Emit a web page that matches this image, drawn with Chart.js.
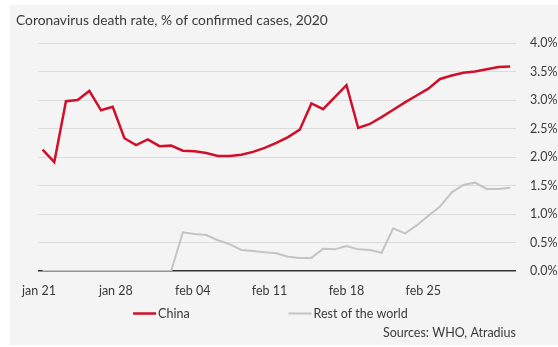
<!DOCTYPE html>
<html>
<head>
<meta charset="utf-8">
<script src="https://cdn.jsdelivr.net/npm/chart.js@4"></script>
<style>
  html, body { margin: 0; padding: 0; background: #ffffff; }
  #panel { position: absolute; left: 10px; top: 5px; width: 548px; height: 340px; background: #f4f4f4; }
</style>
</head>
<body>
<div id="panel"><canvas id="deathRate" width="548" height="340"></canvas></div>
<script>
// Coronavirus death rate, % of confirmed cases, daily jan 21 - mar 01 2020

const chinaRate = [
  2.13, 1.91, 2.98, 3.00, 3.16, 2.82, 2.88, 2.33, 2.21, 2.31,
  2.19, 2.20, 2.11, 2.10, 2.07, 2.02, 2.02, 2.04, 2.09, 2.16,
  2.25, 2.35, 2.48, 2.94, 2.84, 3.05, 3.26, 2.51, 2.58, 2.70,
  2.83, 2.96, 3.08, 3.20, 3.37, 3.43, 3.48, 3.50, 3.54, 3.58,
  3.59
];

const restOfWorldRate = [
  0, 0, 0, 0, 0, 0, 0, 0, 0, 0,
  0, 0, 0.68, 0.65, 0.63, 0.54, 0.47, 0.37, 0.35, 0.33,
  0.31, 0.25, 0.23, 0.23, 0.39, 0.38, 0.44, 0.38, 0.37, 0.32,
  0.75, 0.66, 0.80, 0.97, 1.13, 1.38, 1.51, 1.55, 1.44, 1.44,
  1.46
];

// x axis labels: one per week, as day offsets from jan 21
const weekTickDays = [0, 7, 14, 21, 28, 35];
const weekTickLabels = ['jan 21', 'jan 28', 'feb 04', 'feb 11', 'feb 18', 'feb 25'];

const yTicks = [0, 0.5, 1, 1.5, 2, 2.5, 3, 3.5, 4];

const colors = {
  china: '#d0102b',
  rest: '#c4c4c4',
  text: '#3a3a3a',
  grid: '#dcdcdc',
  zero: '#333333'
};

const fontFamily = 'Lato, "Open Sans", sans-serif';
Chart.defaults.font.family = fontFamily;
Chart.defaults.color = colors.text;

// one point per daily report
const toPoints = values => values.map((v, i) => ({ x: i, y: v }));

// Legend drawn as short lines with the label right after, wide gap between items
const lineLegend = {
  id: 'lineLegend',
  afterDraw(chart, args, opts) {
    const { ctx, chartArea } = chart;
    const y = chart.scales.xWeeks.bottom + opts.offsetY;
    ctx.save();
    ctx.font = opts.fontSize + 'px ' + fontFamily;
    ctx.textBaseline = 'middle';
    ctx.textAlign = 'left';
    const items = chart.data.datasets.map(ds => ({
      text: ds.label,
      color: ds.borderColor,
      lineWidth: ds.borderWidth,
      textWidth: ctx.measureText(ds.label).width
    }));
    const total = items.reduce((sum, it) => sum + opts.lineLength + opts.gap + it.textWidth, 0)
      + opts.spacing * (items.length - 1);
    let x = (chartArea.left + chartArea.right) / 2 - total / 2 + opts.shift;
    items.forEach(it => {
      ctx.strokeStyle = it.color;
      ctx.lineWidth = it.lineWidth;
      ctx.beginPath();
      ctx.moveTo(x, y);
      ctx.lineTo(x + opts.lineLength, y);
      ctx.stroke();
      ctx.fillStyle = colors.text;
      ctx.fillText(it.text, x + opts.lineLength + opts.gap, y);
      x += opts.lineLength + opts.gap + it.textWidth + opts.spacing;
    });
    ctx.restore();
  }
};

new Chart(document.getElementById('deathRate'), {
  type: 'line',
  plugins: [lineLegend],
  data: {
    datasets: [
      {
        label: 'China',
        data: toPoints(chinaRate),
        borderColor: colors.china,
        backgroundColor: colors.china,
        borderWidth: 2.5,
        pointRadius: 0,
        tension: 0,
        xAxisID: 'x',
        yAxisID: 'y'
      },
      {
        label: 'Rest of the world',
        data: toPoints(restOfWorldRate),
        borderColor: colors.rest,
        backgroundColor: colors.rest,
        borderWidth: 2,
        pointRadius: 0,
        tension: 0,
        xAxisID: 'x',
        yAxisID: 'y'
      }
    ]
  },
  options: {
    responsive: false,
    animation: false,
    layout: { padding: { left: 6, right: 0, top: 0, bottom: 3 } },
    plugins: {
      title: {
        display: true,
        text: 'Coronavirus death rate, % of confirmed cases, 2020',
        align: 'start',
        color: colors.text,
        font: { size: 13.8, weight: 'normal' },
        padding: { top: 7, bottom: 14.5 }
      },
      subtitle: {
        display: true,
        text: 'Sources: WHO, Atradius',
        position: 'bottom',
        align: 'end',
        fullSize: false,
        color: colors.text,
        font: { size: 12.5 },
        padding: { top: 15, bottom: 2 }
      },
      legend: { display: false },
      lineLegend: {
        offsetY: 3.5,
        fontSize: 12.5,
        lineLength: 23,
        gap: 2,
        spacing: 99,
        shift: -6.5
      },
      tooltip: { enabled: false }
    },
    scales: {
      // report index, 0 = jan 21
      x: {
        type: 'linear',
        display: false,
        min: -0.4,
        max: 40.5
      },
      // week labels: days since jan 21
      xWeeks: {
        type: 'linear',
        position: 'bottom',
        min: -0.1,
        max: 43.45,
        grid: { display: false, drawTicks: false },
        border: { display: false },
        afterBuildTicks: scale => {
          scale.ticks = weekTickDays.map(v => ({ value: v }));
        },
        ticks: {
          padding: 12,
          maxRotation: 0,
          autoSkip: false,
          color: colors.text,
          font: { size: 12.5 },
          callback: (value, index) => weekTickLabels[index]
        }
      },
      // spacer so the title starts left of the plot
      yPad: {
        position: 'left',
        display: true,
        grid: { display: false, drawTicks: false },
        border: { display: false },
        ticks: { display: false },
        afterFit: scale => { scale.width = 20; }
      },
      y: {
        position: 'right',
        min: 0,
        max: 4,
        afterBuildTicks: scale => {
          scale.ticks = yTicks.map(v => ({ value: v }));
        },
        afterFit: scale => { scale.width = 42; },
        border: { display: false },
        grid: {
          drawTicks: false,
          color: ctx => ctx.tick && ctx.tick.value === 0 ? colors.zero : colors.grid,
          lineWidth: ctx => ctx.tick && ctx.tick.value === 0 ? 1.5 : 1
        },
        ticks: {
          padding: 14,
          autoSkip: false,
          color: colors.text,
          font: { size: 12.5 },
          callback: value => value.toFixed(1) + '%'
        }
      }
    }
  }
});
</script>
</body>
</html>
